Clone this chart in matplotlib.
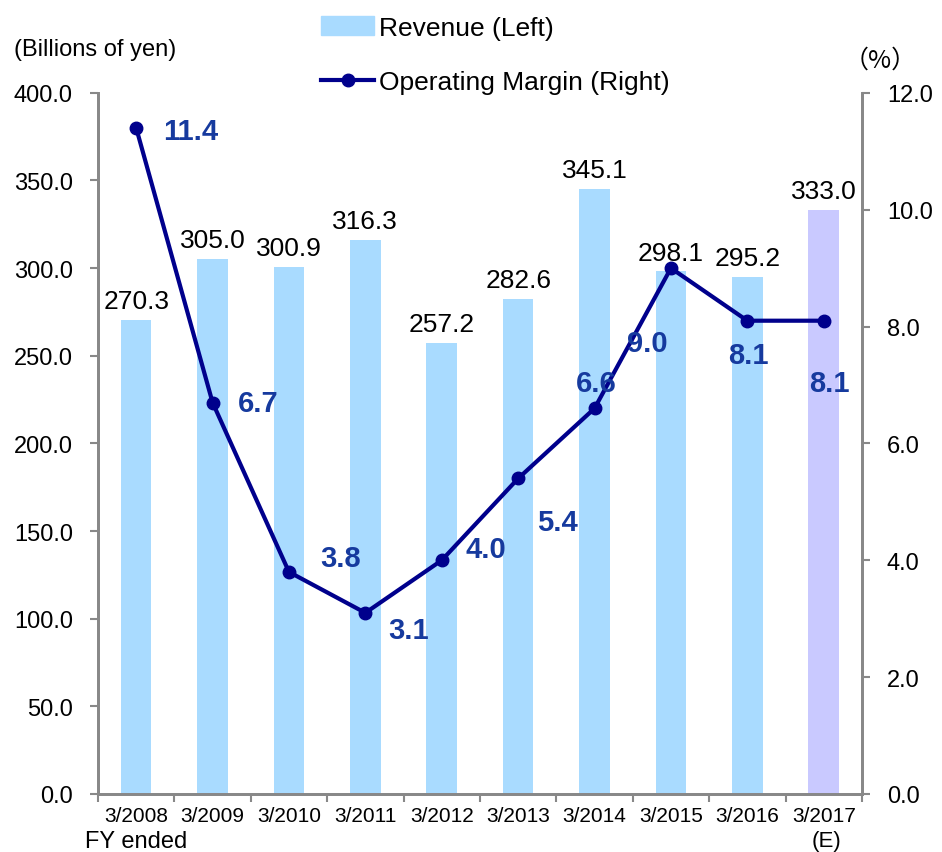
import matplotlib.pyplot as plt
import numpy as np
from matplotlib.lines import Line2D
from matplotlib.patches import Patch

plt.rcParams['font.family'] = ['Liberation Sans', 'DejaVu Sans']

years = ['3/2008', '3/2009', '3/2010', '3/2011', '3/2012',
         '3/2013', '3/2014', '3/2015', '3/2016', '3/2017']
revenue = [270.3, 305.0, 300.9, 316.3, 257.2, 282.6, 345.1, 298.1, 295.2, 333.0]
margin = [11.4, 6.7, 3.8, 3.1, 4.0, 5.4, 6.6, 9.0, 8.1, 8.1]
# offsets of the margin labels (points)
lbl_off = [(39, -2), (33, 0), (37, 10), (31, -12), (32, 8),
           (28, -31), (1, 18), (-17, -54), (1, -25), (4, -45)]

x = np.arange(len(years))
bar_colors = ['#a9dbff'] * 9 + ['#c9c9ff']
line_c = '#00008c'
lbl_c = '#163a9e'
gray = '#888888'

fig = plt.figure(figsize=(9.42, 8.53), dpi=100)
ax = fig.add_axes([0.104, 0.068, 0.811, 0.822])
ax2 = ax.twinx()

ax.bar(x, revenue, width=0.4, color=bar_colors, zorder=1)
for xi, v in zip(x, revenue):
    ax.annotate(f'{v:.1f}', (xi, v), xytext=(0, 5), textcoords='offset points',
                ha='center', va='bottom', fontsize=19)

ax.set_xlim(-0.5, len(years) - 0.5)
ax.set_ylim(0, 400)
ax.set_yticks(np.arange(0, 401, 50))
ax.set_yticklabels([f'{t:.1f}' for t in np.arange(0, 401, 50)], fontsize=17)
ax.set_xticks(x)
ax.set_xticklabels(years, fontsize=15)
ax.set_xticks(np.arange(-0.5, len(years), 1), minor=True)
ax.tick_params(axis='x', which='major', length=0, pad=9)
ax.tick_params(axis='x', which='minor', length=6, color=gray, width=1.5)
ax.tick_params(axis='y', length=6, color=gray, width=1.5, pad=12)

ax2.plot(x, margin, color=line_c, lw=3, marker='o', ms=9, zorder=3)
for xi, m, off in zip(x, margin, lbl_off):
    ax2.annotate(f'{m:.1f}', (xi, m), xytext=off, textcoords='offset points',
                 ha='center', va='center', fontsize=21, fontweight='bold', color=lbl_c)
ax2.set_ylim(0, 12)
ax2.set_yticks(np.arange(0, 12.1, 2))
ax2.set_yticklabels([f'{t:.1f}' for t in np.arange(0, 12.1, 2)], fontsize=17)
ax2.tick_params(axis='y', length=6, color=gray, width=1.5, pad=12)

for a in (ax, ax2):
    a.spines['top'].set_visible(False)
    for s in ('left', 'right', 'bottom'):
        a.spines[s].set_color(gray)
        a.spines[s].set_linewidth(2)

fig.text(0.015, 0.941, '(Billions of yen)', fontsize=17, ha='left', va='center')
fig.text(0.934, 0.929, '（%）', fontsize=18, ha='center', va='center',
         family=['Noto Sans CJK JP', 'DejaVu Sans'])
fig.text(0.09, 0.013, 'FY ended', fontsize=17, ha='left', va='center')
fig.text(0.877, 0.014, '(E)', fontsize=16, ha='center', va='center')

handles = [Patch(color='#a9dbff'),
           Line2D([0], [0], color=line_c, lw=3, marker='o', ms=9)]
fig.legend(handles, ['Revenue (Left)', 'Operating Margin (Right)'],
           loc='upper left', bbox_to_anchor=(0.33, 0.993), frameon=False,
           fontsize=19, handlelength=2.0, handletextpad=0.2, labelspacing=1.15,
           borderaxespad=0)

fig.savefig('out.png', dpi=100)
